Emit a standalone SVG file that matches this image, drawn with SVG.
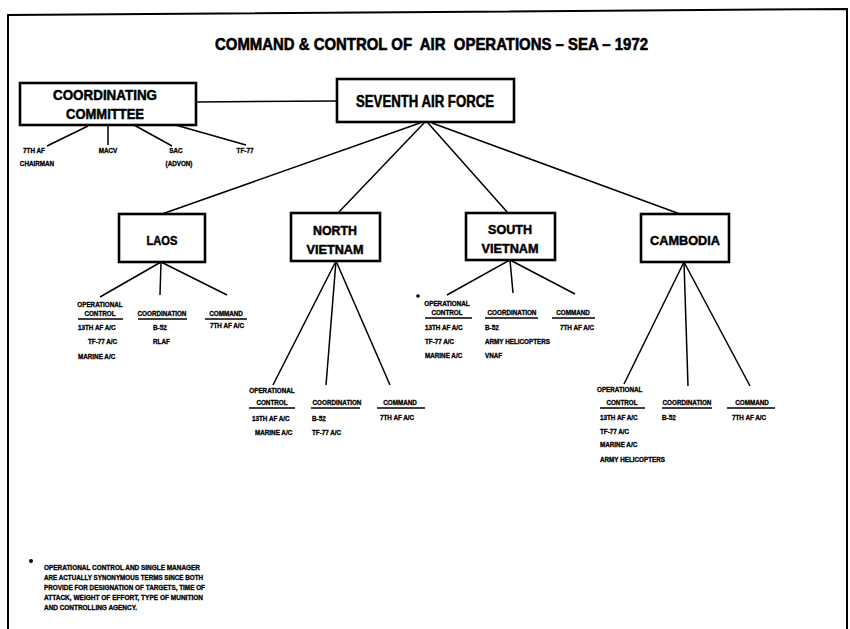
<svg xmlns="http://www.w3.org/2000/svg" width="850" height="629" viewBox="0 0 850 629">
<defs>
<style>
.bg{fill:#fff}
.frame{stroke:#000;stroke-width:2;fill:none}
.box{fill:#fff;stroke:#000;stroke-width:2.6}
.ln{stroke:#000;stroke-width:1.5;fill:none}
.ul{stroke:#000;stroke-width:1.3}
text{font-family:"Liberation Sans","DejaVu Sans",sans-serif;font-weight:bold;fill:#000;stroke:#000}
.title{font-size:17px;white-space:pre;stroke-width:0.6}
.big{font-size:15px;text-anchor:middle;stroke-width:0.5}
.mid{font-size:13.5px;text-anchor:middle;stroke-width:0.5}
.s{font-size:6.3px;stroke-width:0.3}
.sc{font-size:6.3px;text-anchor:middle;stroke-width:0.3}
.fn{font-size:6.6px;stroke-width:0.3}
</style>
</defs>
<rect class="bg" x="0" y="0" width="850" height="629"/>
<g id="frame">
<path class="frame" d="M8,629 L8,15 L847,9 L847,629"/>
</g>
<text id="title" class="title" x="215" y="50" textLength="433" lengthAdjust="spacingAndGlyphs">COMMAND &amp; CONTROL OF  AIR  OPERATIONS – SEA – 1972</text>
<g id="connectors">
<line class="ln" x1="196" y1="102" x2="337" y2="101"/>
<line class="ln" x1="88" y1="126" x2="47" y2="146"/>
<line class="ln" x1="108" y1="125" x2="108" y2="145"/>
<line class="ln" x1="134" y1="125" x2="172" y2="146"/>
<line class="ln" x1="172" y1="124" x2="246" y2="145"/>
<line class="ln" x1="420" y1="123" x2="162" y2="214"/>
<line class="ln" x1="424" y1="123" x2="338" y2="213"/>
<line class="ln" x1="428" y1="123" x2="508" y2="213"/>
<line class="ln" x1="432" y1="123" x2="680" y2="214"/>
<line class="ln" x1="161" y1="262" x2="100" y2="297"/>
<line class="ln" x1="161" y1="262" x2="160" y2="295"/>
<line class="ln" x1="161" y1="262" x2="227" y2="295"/>
<line class="ln" x1="336" y1="261" x2="273" y2="385"/>
<line class="ln" x1="336" y1="261" x2="326" y2="385"/>
<line class="ln" x1="336" y1="261" x2="390" y2="385"/>
<line class="ln" x1="510" y1="260" x2="447" y2="295"/>
<line class="ln" x1="510" y1="260" x2="513" y2="293"/>
<line class="ln" x1="510" y1="260" x2="575" y2="294"/>
<line class="ln" x1="684" y1="262" x2="624" y2="384"/>
<line class="ln" x1="684" y1="262" x2="688" y2="386"/>
<line class="ln" x1="684" y1="262" x2="750" y2="386"/>
</g>
<g id="coordinating-committee">
<rect class="box" x="20" y="83" width="176" height="42"/>
<text class="big" x="105" y="100" textLength="104" lengthAdjust="spacingAndGlyphs">COORDINATING</text>
<text class="big" x="105" y="119" textLength="78" lengthAdjust="spacingAndGlyphs">COMMITTEE</text>
</g>
<g id="cc-members">
<text class="sc" x="34" y="153">7TH AF</text>
<text class="sc" x="37" y="166">CHAIRMAN</text>
<text class="sc" x="108" y="153">MACV</text>
<text class="sc" x="176" y="153">SAC</text>
<text class="sc" x="179" y="166">(ADVON)</text>
<text class="sc" x="245" y="153">TF-77</text>
</g>
<g id="seventh-air-force">
<rect class="box" x="337" y="79" width="177" height="43"/>
<text class="big" x="425" y="107" textLength="138" lengthAdjust="spacingAndGlyphs" style="font-size:16px">SEVENTH AIR FORCE</text>
</g>
<g id="laos">
<rect class="box" x="119" y="214" width="86" height="48"/>
<text class="mid" x="162" y="245" textLength="31" lengthAdjust="spacingAndGlyphs">LAOS</text>
</g>
<g id="north-vietnam">
<rect class="box" x="291" y="213" width="89" height="48"/>
<text class="mid" x="335" y="235" textLength="44" lengthAdjust="spacingAndGlyphs">NORTH</text>
<text class="mid" x="335" y="254" textLength="57" lengthAdjust="spacingAndGlyphs">VIETNAM</text>
</g>
<g id="south-vietnam">
<rect class="box" x="466" y="213" width="89" height="47"/>
<text class="mid" x="510" y="234" textLength="44" lengthAdjust="spacingAndGlyphs">SOUTH</text>
<text class="mid" x="510" y="253" textLength="57" lengthAdjust="spacingAndGlyphs">VIETNAM</text>
</g>
<g id="cambodia">
<rect class="box" x="641" y="214" width="88" height="48"/>
<text class="mid" x="685" y="245" textLength="70" lengthAdjust="spacingAndGlyphs">CAMBODIA</text>
</g>
<g id="laos-detail">
<text class="sc" x="100" y="307">OPERATIONAL</text>
<text class="sc" x="100" y="316">CONTROL</text>
<line class="ul" x1="78" y1="319" x2="123" y2="319"/>
<text class="s" x="78" y="330">13TH AF A/C</text>
<text class="s" x="88" y="344">TF-77 A/C</text>
<text class="s" x="78" y="359">MARINE A/C</text>
<text class="sc" x="162" y="316">COORDINATION</text>
<line class="ul" x1="138" y1="319" x2="187" y2="319"/>
<text class="s" x="153" y="330">B-52</text>
<text class="s" x="153" y="344">RLAF</text>
<text class="sc" x="226" y="316">COMMAND</text>
<line class="ul" x1="205" y1="319" x2="247" y2="319"/>
<text class="s" x="210" y="328">7TH AF A/C</text>
</g>
<g id="north-vietnam-detail">
<text class="sc" x="272" y="393">OPERATIONAL</text>
<text class="sc" x="272" y="405">CONTROL</text>
<line class="ul" x1="249" y1="408" x2="295" y2="408"/>
<text class="s" x="252" y="421">13TH AF A/C</text>
<text class="s" x="255" y="435">MARINE A/C</text>
<text class="sc" x="337" y="405">COORDINATION</text>
<line class="ul" x1="311" y1="408" x2="360" y2="408"/>
<text class="s" x="312" y="421">B-52</text>
<text class="s" x="312" y="435">TF-77 A/C</text>
<text class="sc" x="400" y="405">COMMAND</text>
<line class="ul" x1="377" y1="408" x2="425" y2="408"/>
<text class="s" x="380" y="420">7TH AF A/C</text>
</g>
<g id="south-vietnam-detail">
<circle cx="418" cy="296" r="1.8" fill="#000"/>
<text class="sc" x="447" y="306">OPERATIONAL</text>
<text class="sc" x="447" y="315">CONTROL</text>
<line class="ul" x1="425" y1="318" x2="472" y2="318"/>
<text class="s" x="425" y="330">13TH AF A/C</text>
<text class="s" x="425" y="344">TF-77 A/C</text>
<text class="s" x="425" y="358">MARINE A/C</text>
<text class="sc" x="512" y="315">COORDINATION</text>
<line class="ul" x1="485" y1="318" x2="538" y2="318"/>
<text class="s" x="485" y="330">B-52</text>
<text class="s" x="485" y="344">ARMY HELICOPTERS</text>
<text class="s" x="485" y="358">VNAF</text>
<text class="sc" x="573" y="315">COMMAND</text>
<line class="ul" x1="552" y1="318" x2="595" y2="318"/>
<text class="s" x="560" y="330">7TH AF A/C</text>
</g>
<g id="cambodia-detail">
<text class="s" x="597" y="392">OPERATIONAL</text>
<text class="sc" x="622" y="405">CONTROL</text>
<line class="ul" x1="600" y1="408" x2="645" y2="408"/>
<text class="s" x="600" y="420">13TH AF A/C</text>
<text class="s" x="600" y="434">TF-77 A/C</text>
<text class="s" x="600" y="447">MARINE A/C</text>
<text class="s" x="600" y="462">ARMY HELICOPTERS</text>
<text class="sc" x="687" y="405">COORDINATION</text>
<line class="ul" x1="662" y1="408" x2="712" y2="408"/>
<text class="s" x="662" y="420">B-52</text>
<text class="sc" x="752" y="405">COMMAND</text>
<line class="ul" x1="727" y1="408" x2="775" y2="408"/>
<text class="s" x="732" y="420">7TH AF A/C</text>
</g>
<g id="footnote">
<circle cx="31" cy="561" r="2" fill="#000"/>
<text class="fn" x="44" y="570" textLength="156" lengthAdjust="spacingAndGlyphs">OPERATIONAL CONTROL AND SINGLE MANAGER</text>
<text class="fn" x="44" y="580" textLength="159" lengthAdjust="spacingAndGlyphs">ARE ACTUALLY SYNONYMOUS TERMS SINCE BOTH</text>
<text class="fn" x="44" y="590" textLength="161" lengthAdjust="spacingAndGlyphs">PROVIDE FOR DESIGNATION OF TARGETS, TIME OF</text>
<text class="fn" x="44" y="600" textLength="159" lengthAdjust="spacingAndGlyphs">ATTACK, WEIGHT OF EFFORT, TYPE OF MUNITION</text>
<text class="fn" x="44" y="610" textLength="93" lengthAdjust="spacingAndGlyphs">AND CONTROLLING AGENCY.</text>
</g>
</svg>
